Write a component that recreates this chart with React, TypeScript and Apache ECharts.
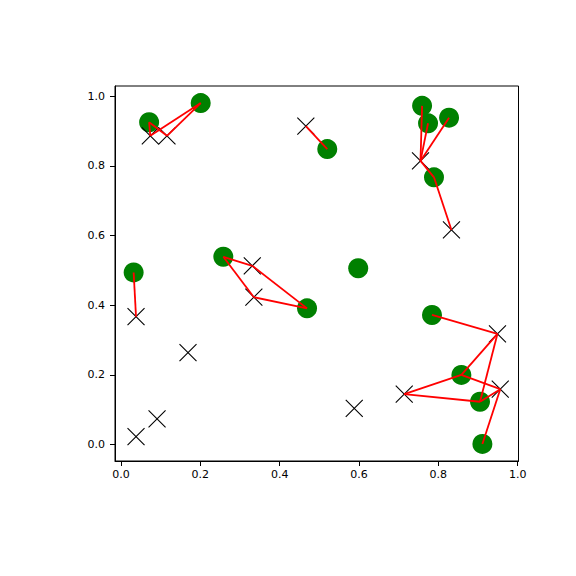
import React, { useEffect, useRef } from "react";
import * as echarts from "echarts";

const tickValues = [0, 0.2, 0.4, 0.6, 0.8, 1.0];

const greens: [number, number][] = [
  [0.071, 0.925],
  [0.201, 0.98],
  [0.52, 0.848],
  [0.759, 0.972],
  [0.774, 0.922],
  [0.827, 0.938],
  [0.789, 0.767],
  [0.598, 0.506],
  [0.258, 0.539],
  [0.032, 0.494],
  [0.469, 0.391],
  [0.784, 0.372],
  [0.858, 0.2],
  [0.905, 0.123],
  [0.911, 0.002],
];

const crosses: [number, number][] = [
  [0.074, 0.886],
  [0.116, 0.886],
  [0.466, 0.914],
  [0.755, 0.814],
  [0.833, 0.616],
  [0.331, 0.513],
  [0.335, 0.423],
  [0.038, 0.367],
  [0.169, 0.264],
  [0.091, 0.074],
  [0.038, 0.023],
  [0.588, 0.104],
  [0.714, 0.145],
  [0.949, 0.318],
  [0.956, 0.159],
];

// [green index, cross index]
const links: [number, number][] = [
  [0, 0], [1, 0], [0, 1], [1, 1],
  [2, 2],
  [3, 3], [4, 3], [5, 3], [6, 3], [6, 4],
  [8, 5], [10, 5], [8, 6], [10, 6],
  [9, 7],
  [11, 13], [12, 13], [13, 13], [12, 12], [12, 14], [13, 12], [13, 14], [14, 14],
];

export default function App() {
  const ref = useRef<HTMLDivElement>(null);
  useEffect(() => {
    document.body.style.margin = "0";
    const chart = echarts.init(ref.current!, undefined, { renderer: "svg" });
    const font = "DejaVu Sans";
    const axisCommon = {
      type: "value" as const,
      axisLine: { show: true, onZero: false, lineStyle: { color: "#000", width: 1 } },
      axisTick: { show: true, length: 5, customValues: tickValues, lineStyle: { color: "#000", width: 1 } },
      axisLabel: {
        customValues: tickValues,
        color: "#000",
        fontSize: 11,
        fontFamily: font,
        formatter: (v: number) => v.toFixed(1),
      },
      splitLine: { show: false },
    };
    chart.setOption({
      animation: false,
      backgroundColor: "#fff",
      grid: {
        left: 115,
        right: 57.5,
        top: 86,
        bottom: 115,
        show: true,
        borderColor: "#000",
        borderWidth: 1,
        backgroundColor: "transparent",
      },
      xAxis: {
        ...axisCommon,
        min: -0.015,
        max: 1.002,
        axisLabel: { ...axisCommon.axisLabel, margin: 8 },
      },
      yAxis: {
        ...axisCommon,
        min: -0.047,
        max: 1.029,
        axisLabel: { ...axisCommon.axisLabel, margin: 10 },
      },
      series: [
        {
          type: "scatter",
          data: greens,
          symbol: "circle",
          symbolSize: 20,
          itemStyle: { color: "#008000", opacity: 1 },
          z: 2,
        },
        {
          type: "scatter",
          data: crosses,
          symbol: "path://M0,0L10,10M10,0L0,10",
          symbolSize: 17,
          itemStyle: { color: "none", borderColor: "#000", borderWidth: 1.1, opacity: 1 },
          z: 3,
        },
        {
          type: "lines",
          coordinateSystem: "cartesian2d",
          data: links.map(([g, c]) => ({ coords: [greens[g], crosses[c]] })),
          lineStyle: { color: "#ff0000", width: 1.8, opacity: 1 },
          z: 4,
        },
      ],
    });
    return () => chart.dispose();
  }, []);
  return <div ref={ref} style={{ width: 576, height: 576 }} />;
}
